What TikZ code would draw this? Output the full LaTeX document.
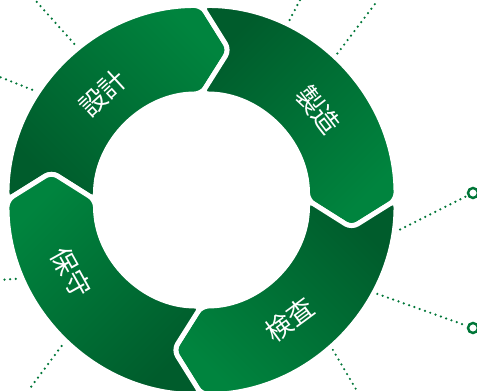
\documentclass[tikz,border=0pt]{standalone}
\usepackage{fontspec}
\newfontfamily\jpfont{Noto Sans CJK JP}
\definecolor{forest}{RGB}{0, 92, 44}
\definecolor{leaf}{RGB}{0, 132, 62}
\definecolor{dotgreen}{RGB}{0, 118, 56}

\begin{document}
\begin{tikzpicture}[x=0.02cm, y=0.02cm,
    segment/.style={draw=white, line width=2.8pt, rounded corners=4pt, top color=leaf, bottom color=forest},
    dots/.style={dotgreen, line width=1.4pt, line cap=round, dash pattern=on 0pt off 3.2pt},
    endring/.style={circle, draw=dotgreen, line width=1.4pt, minimum size=0.2cm, inner sep=0pt},
    stagename/.style={text=white, inner sep=0pt, font=\jpfont\fontsize{15pt}{15pt}\selectfont}]
            \useasboundingbox (-201.5,-191) rectangle (275.5,200);

            \coordinate (a1) at (-123.5, 152);   \coordinate (b1) at (-166.5, 200);
            \coordinate (a2) at (-148.5, 102);   \coordinate (b2) at (-201.5, 123);
            \coordinate (a3) at (  85.5, 175);   \coordinate (b3) at (  98.5, 200);
            \coordinate (a4) at ( 132.5, 142);   \coordinate (b4) at ( 176.5, 200);
            \coordinate (a5) at ( 183.5, -37);   \node[endring] (r5) at ( 271.5,   7) {};
            \coordinate (a6) at ( 170.5, -92);   \node[endring] (r6) at ( 271.5,-128) {};
            \coordinate (a7) at ( 128.5,-145);   \coordinate (b7) at ( 155.5,-191);
            \coordinate (a8) at (  58.5,-158);   \coordinate (b8) at (  58.5,-191);
            \coordinate (a9) at (-174.5, -78);   \coordinate (b9) at (-201.5, -80);
            \coordinate (a10) at (-126.5,-128);  \coordinate (b10) at (-173.5,-191);

            \draw[dots] (a1) -- (b1);
            \draw[dots] (a2) -- (b2);
            \draw[dots] (a3) -- (b3);
            \draw[dots] (a4) -- (b4);
            \draw[dots] (a5) -- (r5);
            \draw[dots] (a6) -- (r6);
            \draw[dots] (a7) -- (b7);
            \draw[dots] (a8) -- (b8);
            \draw[dots] (a9) -- (b9);
            \draw[dots] (a10) -- (b10);

            \shadedraw[segment, shading angle=-45]  (180:194.5) arc[start angle=180, end angle=90,  radius=194.5] -- ( 79.5:152.6) -- ( 90:106) arc[start angle=90,  end angle=180, radius=106] -- (169.5:152.6) -- cycle;
            \shadedraw[segment, shading angle=-135] ( 90:194.5) arc[start angle=90,  end angle=0,   radius=194.5] -- (-10.5:152.6) -- (  0:106) arc[start angle=0,   end angle=90,  radius=106] -- ( 79.5:152.6) -- cycle;
            \shadedraw[segment, shading angle=135]  (  0:194.5) arc[start angle=0,   end angle=-90, radius=194.5] -- (-100.5:152.6) -- (-90:106) arc[start angle=-90, end angle=0,   radius=106] -- (-10.5:152.6) -- cycle;
            \shadedraw[segment, shading angle=45]   (270:194.5) arc[start angle=270, end angle=180, radius=194.5] -- (169.5:152.6) -- (180:106) arc[start angle=180, end angle=270, radius=106] -- (259.5:152.6) -- cycle;

            \node[stagename, rotate=42.6]  (design)  at (132.6:145.4) {設計};
            \node[stagename, rotate=-52.5] (make)    at ( 37.5:148.0) {製造};
            \node[stagename, rotate=36.4]  (inspect) at (-53.6:148.4) {検査};
            \node[stagename, rotate=-60.9] (upkeep)  at (209.1:148.8) {保守};
        \end{tikzpicture}
\end{document}
